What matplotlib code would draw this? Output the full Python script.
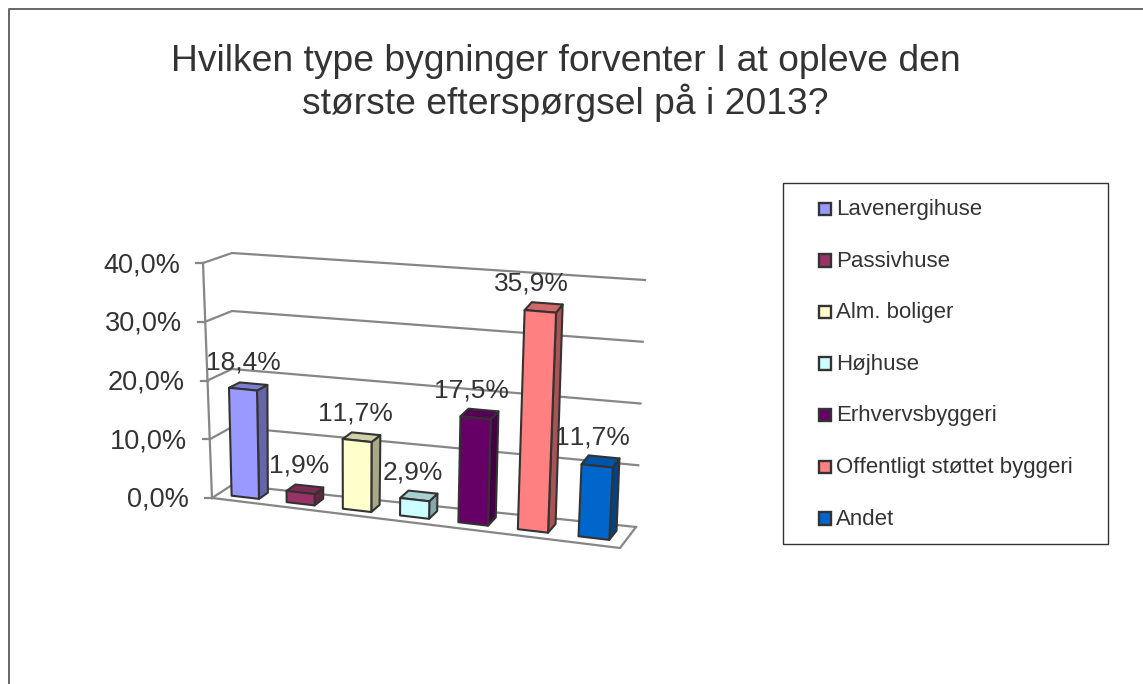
import matplotlib
matplotlib.use('Agg')
import matplotlib.pyplot as plt
from matplotlib.patches import Rectangle
import numpy as np

plt.rcParams['font.family'] = ['Liberation Sans', 'DejaVu Sans']
plt.rcParams['text.kerning_factor'] = 6

categories = ['Lavenergihuse', 'Passivhuse', 'Alm. boliger', 'Højhuse',
              'Erhvervsbyggeri', 'Offentligt støttet byggeri', 'Andet']
values = [18.4, 1.9, 11.7, 2.9, 17.5, 35.9, 11.7]
value_labels = ['18,4%', '1,9%', '11,7%', '2,9%', '17,5%', '35,9%', '11,7%']
colors = ['#9999FF', '#993366', '#FFFFCC', '#CCFFFF', '#660066', '#FF8080', '#0066CC']
y_ticks = [0, 10, 20, 30, 40]
y_tick_labels = ['0,0%', '10,0%', '20,0%', '30,0%', '40,0%']
title = 'Hvilken type bygninger forventer I at opleve den\nstørste efterspørgsel på i 2013?'

TEXT = '#333333'
EDGE = '#333333'
GRID = '#868686'
YMAX = 40.0
PERSP = 1.07  # bars get wider and further apart towards the right

# corners of the 3d box in pixels: [u][v][w]
box = np.array([[[(212, 498), (203, 263)], [(232, 485), (232, 253)]],
                [[(620, 548), (634, 300)], [(636, 527), (645, 280)]]], dtype=float)


def proj(u, v, val):
    # trilinear mapping: u along categories, v depth, val height
    u = u / (u + PERSP * (1 - u))
    w = val / YMAX
    p = np.zeros(2)
    for i, a in enumerate([1 - u, u]):
        for j, b in enumerate([1 - v, v]):
            for k, c in enumerate([1 - w, w]):
                p = p + a * b * c * box[i][j][k]
    return p


def shade(col, f):
    r = matplotlib.colors.to_rgb(col)
    return tuple(x * f for x in r)


def face(ax, pts, col, z):
    pts = np.array(pts)
    ax.fill(pts[:, 0], pts[:, 1], facecolor=col, edgecolor=EDGE, lw=1.5, zorder=z, joinstyle='round')


fig = plt.figure(figsize=(11.43, 6.84), dpi=100)
ax = fig.add_axes([0, 0, 1, 1])
ax.set_xlim(0, 1143)
ax.set_ylim(684, 0)
ax.axis('off')

# outer frame
ax.plot([9, 9, 1143], [684, 9, 9], color='#666666', lw=1.4, zorder=1)

ax.text(565.5, 83, title, ha='center', va='center', fontsize=26.8, color=TEXT, linespacing=1.13)

# walls and floor
for t in y_ticks:
    a = proj(0, 0, t)
    b = proj(0, 1, t)
    c = proj(1, 1, t)
    ax.plot([a[0], b[0], c[0]], [a[1], b[1], c[1]], color=GRID, lw=1.6, zorder=2)
    ax.plot([a[0] - 7, a[0]], [a[1], a[1]], color=GRID, lw=1.6, zorder=2)
for t, lab in zip(y_ticks, y_tick_labels):
    a = proj(0, 0, t)
    ax.text(a[0] - 23, a[1] + 2, lab, ha='right', va='center', fontsize=19.5, color=TEXT, zorder=6)
a, b = proj(0, 0, 0), proj(0, 0, YMAX)
ax.plot([a[0], b[0]], [a[1], b[1]], color=GRID, lw=1.6, zorder=2)
fl = [proj(0, 0, 0), proj(1, 0, 0), proj(1, 1, 0)]
ax.plot([p[0] for p in fl], [p[1] for p in fl], color=GRID, lw=1.6, zorder=2)

# bars
n = len(values)
for i, (val, col, lab) in enumerate(zip(values, colors, value_labels)):
    u0 = (i + 0.25) / n
    u1 = (i + 0.75) / n
    v0, v1 = 0.3, 0.75
    z = 3 + i * 0.1
    face(ax, [proj(u1, v0, 0), proj(u1, v1, 0), proj(u1, v1, val), proj(u1, v0, val)], shade(col, 0.66), z)
    face(ax, [proj(u0, v0, val), proj(u1, v0, val), proj(u1, v1, val), proj(u0, v1, val)], shade(col, 0.82), z)
    face(ax, [proj(u0, v0, 0), proj(u1, v0, 0), proj(u1, v0, val), proj(u0, v0, val)], col, z)
    top = proj((u0 + u1) / 2, (v0 + v1) / 2, val)
    base = proj((u0 + u1) / 2, v0, 0)
    # label x follows the foot of the bar, not its leaning top
    ax.text(base[0] - 1.5, top[1] - 23.5, lab, ha='center', va='center', fontsize=19, color=TEXT, zorder=7)

# legend
ax.add_patch(Rectangle((783, 183), 325, 361, facecolor='white', edgecolor='#333333', lw=1.0, zorder=3))
for i, (name, col) in enumerate(zip(categories, colors)):
    y = 208.5 + i * 51.6
    ax.add_patch(Rectangle((818.5, y - 6), 12.5, 12.5, facecolor=col, edgecolor=EDGE, lw=1.7, zorder=4))
    ax.text(836, y + 1, name, ha='left', va='center', fontsize=16, color=TEXT, zorder=4)

fig.savefig('out.png', dpi=100)
